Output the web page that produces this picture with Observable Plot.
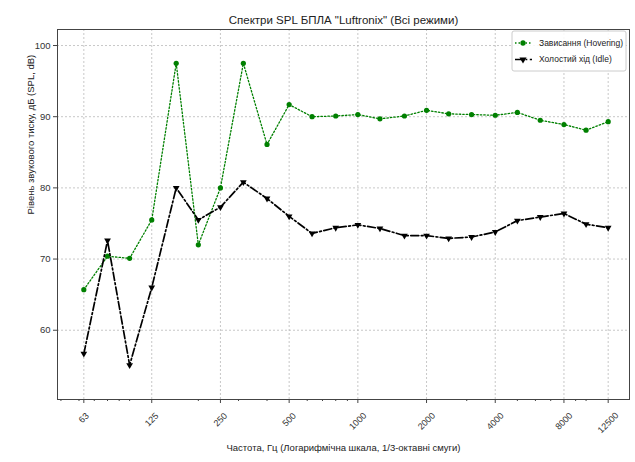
<!DOCTYPE html>
<html>
<head>
<meta charset="utf-8">
<script src="https://cdn.jsdelivr.net/npm/d3@7"></script>
<script src="https://cdn.jsdelivr.net/npm/@observablehq/plot@0.6"></script>
<style>
  html, body { margin: 0; padding: 0; background: #fff; }
  #chart { width: 635px; height: 462px; }
</style>
</head>
<body>
<div id="chart"></div>
<script>
const freqs = [63, 80, 100, 125, 160, 200, 250, 315, 400, 500, 630, 800, 1000, 1250, 1600, 2000, 2500, 3150, 4000, 5000, 6300, 8000, 10000, 12500];
const hovering = [65.7, 70.4, 70.1, 75.5, 97.5, 72.0, 80.0, 97.5, 86.1, 91.7, 90.0, 90.1, 90.3, 89.7, 90.1, 90.9, 90.4, 90.3, 90.2, 90.6, 89.5, 88.9, 88.1, 89.3];
const idle = [56.7, 72.6, 55.1, 66.0, 80.0, 75.5, 77.3, 80.8, 78.5, 76.0, 73.6, 74.4, 74.8, 74.3, 73.3, 73.3, 72.9, 73.1, 73.8, 75.4, 75.9, 76.4, 74.9, 74.4];
const xTicks = [63, 125, 250, 500, 1000, 2000, 4000, 8000, 12500];
const xMinor = [50, 60, 70, 80, 90, 100, 200, 300, 400, 600, 700, 800, 900, 3000, 5000, 6000, 7000, 9000, 10000];
const yTicks = [60, 70, 80, 90, 100];
const seriesNames = ["Зависання (Hovering)", "Холостий хід (Idle)"];
const title = "Спектри SPL БПЛА \"Luftronix\" (Всі режими)";
const xLabel = "Частота, Гц (Логарифмічна шкала, 1/3-октавні смуги)";
const yLabel = "Рівень звукового тиску, дБ (SPL, dB)";

const hov = freqs.map((f, i) => ({f, v: hovering[i]}));
const idl = freqs.map((f, i) => ({f, v: idle[i]}));

const font = "'Liberation Sans', Arial, sans-serif";

const xTickLabels = xTicks.map(t =>
  Plot.text([t], {
    x: d => d, text: d => String(d),
    frameAnchor: "bottom", dy: 18.5 + 1.6 * (String(t).length - 2),
    rotate: -45, textAnchor: "middle", lineAnchor: "middle",
    fontSize: 9, fill: "#333"
  })
);

const plot = Plot.plot({
  width: 635,
  height: 462,
  marginLeft: 57,
  marginRight: 6,
  marginTop: 29,
  marginBottom: 63,
  style: {fontFamily: font, fontSize: "9px", background: "white", color: "#333"},
  x: {type: "log", domain: [48.3, 15500]},
  y: {domain: [50.27, 102.25]},
  marks: [
    Plot.gridX(xTicks, {stroke: "#b0b0b0", strokeOpacity: 0.7, strokeDasharray: "2,2"}),
    Plot.gridY(yTicks, {stroke: "#b0b0b0", strokeOpacity: 0.7, strokeDasharray: "2,2"}),
    Plot.axisX(xMinor, {tickSize: 2, text: null, label: null, stroke: "#444"}),
    Plot.axisX(xTicks, {tickSize: 4, text: null, label: null, stroke: "#444"}),
    ...xTickLabels,
    Plot.axisY(yTicks, {tickSize: 4, tickPadding: 3, label: null, fontSize: 9.5, stroke: "#444"}),
    Plot.frame({stroke: "#444", strokeWidth: 1}),
    Plot.line(hov, {x: "f", y: "v", stroke: "green", strokeWidth: 1.3, strokeDasharray: "1.5,2"}),
    Plot.dot(hov, {x: "f", y: "v", fill: "green", r: 2.6, symbol: "circle"}),
    Plot.line(idl, {x: "f", y: "v", stroke: "black", strokeWidth: 1.7, strokeDasharray: "8,2.5,1.8,2.5"}),
    Plot.dot(idl, {x: "f", y: "v", fill: "black", r: 2.5, symbol: "triangle", rotate: 180}),
    Plot.text([title], {frameAnchor: "top", dy: -14, fontSize: 11.5, fill: "#222"}),
    Plot.text([xLabel], {frameAnchor: "bottom", dy: 51, fontSize: 9.5, fill: "#222"}),
    Plot.text([yLabel], {frameAnchor: "left", dx: -27, rotate: -90, fontSize: 9.5, fill: "#222"})
  ]
});

document.getElementById("chart").appendChild(plot);

// Legend
const svg = d3.select(plot);
const lg = svg.append("g").attr("transform", "translate(512,31)")
  .attr("font-family", font).attr("text-anchor", "start");
lg.append("rect").attr("x", 0).attr("y", 0).attr("width", 114).attr("height", 40)
  .attr("fill", "white").attr("fill-opacity", 0.85).attr("stroke", "#cccccc").attr("stroke-width", 1).attr("rx", 2);
const entries = [
  {name: seriesNames[0], color: "green", dash: "1.5,2", w: 1.3, sym: d3.symbolCircle, size: 22, rot: 0},
  {name: seriesNames[1], color: "black", dash: "8,2.5,1.8,2.5", w: 1.7, sym: d3.symbolTriangle, size: 22, rot: 180}
];
entries.forEach((e, i) => {
  const y = 12 + i * 16.5;
  lg.append("line").attr("x1", 3).attr("x2", 20).attr("y1", y).attr("y2", y)
    .attr("stroke", e.color).attr("stroke-width", e.w).attr("stroke-dasharray", e.dash);
  lg.append("path").attr("d", d3.symbol(e.sym, e.size)())
    .attr("transform", `translate(11,${y}) rotate(${e.rot})`).attr("fill", e.color);
  lg.append("text").attr("x", 27).attr("y", y).attr("dy", "0.35em")
    .attr("text-anchor", "start").attr("font-size", 8.5).attr("fill", "#222").text(e.name);
});
</script>
</body>
</html>
